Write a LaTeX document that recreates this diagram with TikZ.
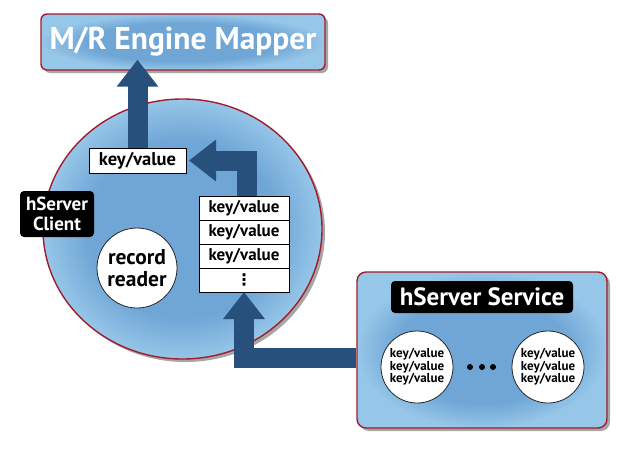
\documentclass[tikz,border=0pt]{standalone}
\usepackage{fontspec}
\setmainfont{PT Sans}
\newfontfamily\symbolfont{DejaVu Sans}
\usetikzlibrary
  {
    arrows.meta,      % block arrow heads
    shapes.geometric, % ellipse of the client
    shadows,          % drop shadows under the panels
    positioning,      % place nodes relative to other nodes
  }

\definecolor{boxinner}{HTML}{6FA6D6}
\definecolor{boxouter}{HTML}{96C6E8}
\definecolor{rimred}{HTML}{A11D2B}
\definecolor{arrowblue}{HTML}{27507D}

\pgfdeclareradialshading{glow}{\pgfpoint{0bp}{0bp}}
  {color(0bp)=(boxinner); color(17bp)=(boxinner); color(25bp)=(boxouter); color(50bp)=(boxouter)}

\begin{document}
\begin{tikzpicture}
    [
      x=1pt, y=-1pt,
      panel/.style=
        {
          draw=rimred,
          line width=1.4pt,
          shade,
          shading=glow,
          drop shadow={shadow xshift=3pt, shadow yshift=-3pt, opacity=.35, fill=black},
        },
      tag/.style=
        {
          rectangle,
          fill=black,
          rounded corners=4pt,
          text=white,
          inner sep=0pt,
          align=center,
        },
      cell/.style=
        {
          rectangle,
          draw=black,
          fill=white,
          line width=0.9pt,
          minimum width=90pt,
          minimum height=24pt,
          inner sep=0pt,
          outer sep=0pt,
          font=\bfseries\fontsize{17}{17}\selectfont,
        },
      store/.style=
        {
          circle,
          draw=black!85,
          fill=white,
          line width=0.8pt,
          minimum size=72pt,
          inner sep=0pt,
          align=center,
          font=\bfseries\fontsize{13}{12.5}\selectfont,
        },
      flow/.style=
        {
          draw=arrowblue,
          line width=20pt,
          -{Triangle[width=40pt,length=27pt]},
        },
    ]
    \fill[white] (0,0) rectangle (640,448);
    \useasboundingbox (0,0) rectangle (640,448);

    % engine on top
    \node[panel, rectangle, rounded corners=6pt, minimum width=284pt, minimum height=56pt,
          text=white, font=\bfseries\fontsize{31.5}{31.5}\selectfont]
      (mapper) at (183,42) {M/R Engine Mapper};

    % client side
    \node[panel, ellipse, minimum width=279pt, minimum height=260pt] (client) at (182.5,229) {};
    \node[tag, minimum width=74pt, minimum height=46pt, font=\bfseries\fontsize{19}{20}\selectfont]
      (client label) at (57,214) {hServer\\Client};
    \node[store, minimum size=80pt, font=\bfseries\fontsize{21.5}{22}\selectfont]
      (reader) at (137,268) {record\\reader};
    \node[cell, minimum width=97pt, minimum height=25pt, font=\bfseries\fontsize{18.5}{18.5}\selectfont]
      (kv top) at (137.5,160.5) {key/value};
    \node[cell]                     (kv 1) at (244,208) {key/value};
    \node[cell, below=0pt of kv 1] (kv 2) {key/value};
    \node[cell, below=0pt of kv 2] (kv 3) {key/value};
    \node[cell, below=0pt of kv 3] (kv more) {\symbolfont\fontsize{16}{16}\selectfont ⋮};

    % service side
    \node[panel, rectangle, rounded corners=9pt, minimum width=250pt, minimum height=156pt]
      (service) at (482,350) {};
    \node[tag, minimum width=182pt, minimum height=32pt, font=\bfseries\fontsize{25}{25}\selectfont]
      (service label) at (482,297) {hServer Service};
    \node[store] (store 1) at (417,367) {key/value\\key/value\\key/value};
    \node[store] (store 2) at (548,367) {key/value\\key/value\\key/value};
    \foreach \x/\n in {470/1, 482/2, 493/3}
      \node[circle, fill=black, inner sep=0pt, minimum size=6pt] (dot \n) at (\x,367) {};

    % data flow
    \draw[flow, shorten >=-11pt] (kv top.north) -- (kv top.north |- mapper.south);
    \draw[flow, shorten >=3pt] ([xshift=3pt]kv 1.north) |- (kv top.east);
    \draw[flow] ([yshift=-8pt]service.west) -| (kv more.south);
  \end{tikzpicture}
\end{document}
